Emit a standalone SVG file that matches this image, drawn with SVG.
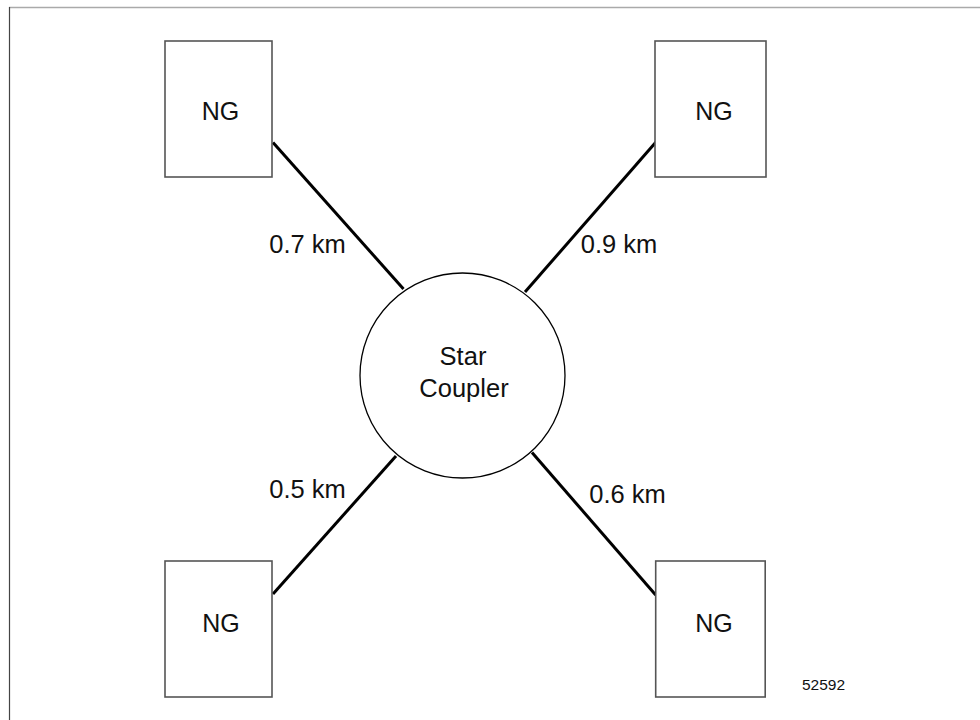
<svg xmlns="http://www.w3.org/2000/svg" width="980" height="720" viewBox="0 0 980 720">
<style>
.box{fill:#fff;stroke:#555;stroke-width:1.6}
.lbl{font-family:"Liberation Sans",Arial,sans-serif;fill:#111;text-anchor:middle}
.ng{font-size:25px}
.km{font-size:25.5px}
.link{stroke:#000;stroke-width:3;fill:none}
</style>
<rect width="980" height="720" fill="#fff"/>
<line x1="9" y1="7.5" x2="980" y2="7.5" stroke="#aaa" stroke-width="1.5"/>
<line x1="9.5" y1="7" x2="9.5" y2="720" stroke="#444" stroke-width="1.2"/>
<g id="connectors">
<line class="link" x1="273" y1="142.5" x2="403.5" y2="289"/>
<line class="link" x1="656" y1="142" x2="525" y2="292"/>
<line class="link" x1="273" y1="594" x2="396" y2="456"/>
<line class="link" x1="532" y1="452.5" x2="655.7" y2="595"/>
<text class="lbl km" x="307.5" y="252.5">0.7 km</text>
<text class="lbl km" x="619" y="253">0.9 km</text>
<text class="lbl km" x="307.5" y="498">0.5 km</text>
<text class="lbl km" x="627.5" y="503">0.6 km</text>
</g>
<g id="ng-tl"><rect class="box" x="165" y="41" width="107" height="136"/><text class="lbl ng" x="220.5" y="120">NG</text></g>
<g id="ng-tr"><rect class="box" x="655" y="41" width="111" height="136"/><text class="lbl ng" x="714" y="119.5">NG</text></g>
<g id="ng-bl"><rect class="box" x="165" y="561" width="107" height="136"/><text class="lbl ng" x="221" y="632">NG</text></g>
<g id="ng-br"><rect class="box" x="655.7" y="561" width="109.5" height="136"/><text class="lbl ng" x="714" y="632">NG</text></g>
<g id="star-coupler">
<circle cx="462.5" cy="375.5" r="102.5" fill="#fff" stroke="#000" stroke-width="1.3"/>
<text class="lbl km" x="463" y="365">Star</text>
<text class="lbl km" x="464" y="396.5">Coupler</text>
</g>
<text class="lbl" x="823.5" y="690" font-size="15.5">52592</text>
</svg>
